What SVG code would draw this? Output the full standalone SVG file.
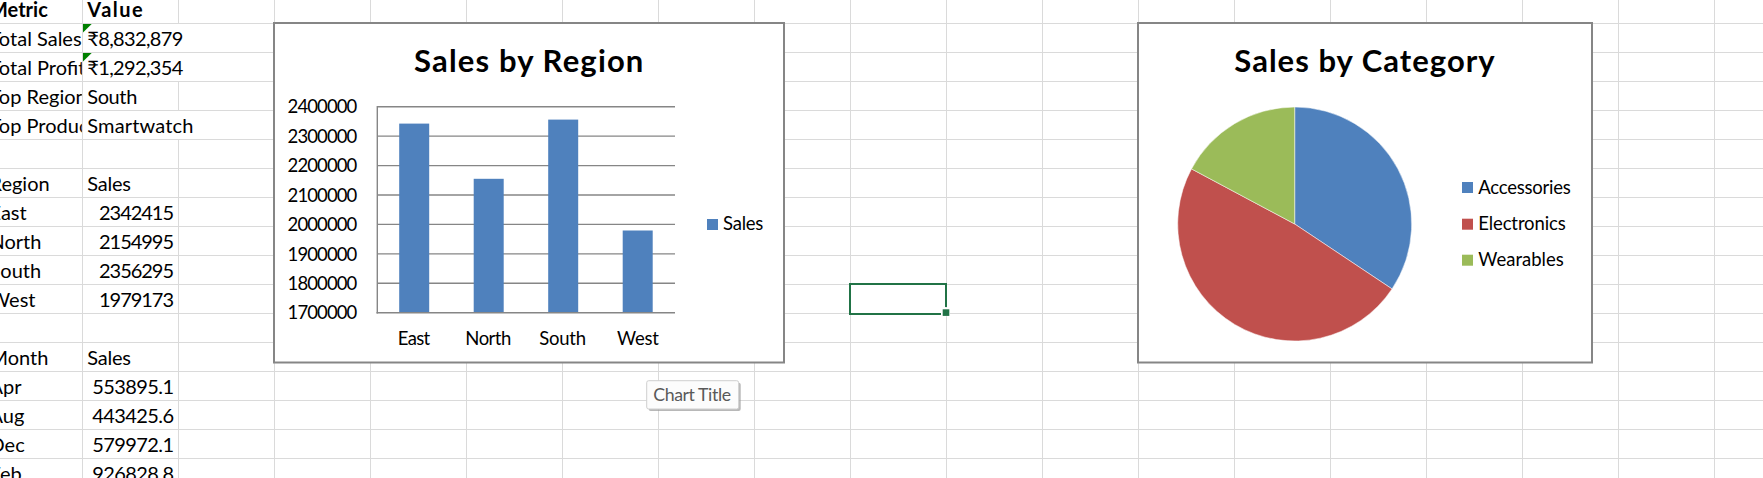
<svg xmlns="http://www.w3.org/2000/svg" width="1763" height="478" viewBox="0 0 1763 478">
<style>
.grid line{stroke:#dadada;stroke-width:1}
.t{font-family:Lato,"Noto Sans","DejaVu Sans",sans-serif;fill:#000}
.cell{font-size:20px}
.b{font-weight:bold}
.end{text-anchor:end}
.mid{text-anchor:middle}
.chartbox{fill:#fff;stroke:#868686;stroke-width:2}
.gl{stroke:#868686;stroke-width:1.4}
.ax{font-size:18.5px}
.ttl{font-size:31px;font-weight:bold;text-anchor:middle}
.bar{fill:#4f81bd}
.tri{fill:#008000}
</style>
<defs>
<clipPath id="colA"><rect x="-20" y="-20" width="101.8" height="520"/></clipPath>
</defs>
<rect x="0" y="0" width="1763" height="478" fill="#fff"/>
<g id="gridlines" class="grid">
<line x1="0" y1="23.5" x2="1763" y2="23.5"/>
<line x1="0" y1="52.5" x2="1763" y2="52.5"/>
<line x1="0" y1="81.5" x2="1763" y2="81.5"/>
<line x1="0" y1="110.5" x2="1763" y2="110.5"/>
<line x1="0" y1="139.5" x2="1763" y2="139.5"/>
<line x1="0" y1="168.5" x2="1763" y2="168.5"/>
<line x1="0" y1="197.5" x2="1763" y2="197.5"/>
<line x1="0" y1="226.5" x2="1763" y2="226.5"/>
<line x1="0" y1="255.5" x2="1763" y2="255.5"/>
<line x1="0" y1="284.5" x2="1763" y2="284.5"/>
<line x1="0" y1="313.5" x2="1763" y2="313.5"/>
<line x1="0" y1="342.5" x2="1763" y2="342.5"/>
<line x1="0" y1="371.5" x2="1763" y2="371.5"/>
<line x1="0" y1="400.5" x2="1763" y2="400.5"/>
<line x1="0" y1="429.5" x2="1763" y2="429.5"/>
<line x1="0" y1="458.5" x2="1763" y2="458.5"/>
<line x1="82.5" y1="0" x2="82.5" y2="478"/>
<line x1="178.5" y1="0" x2="178.5" y2="478"/>
<line x1="274.5" y1="0" x2="274.5" y2="478"/>
<line x1="370.5" y1="0" x2="370.5" y2="478"/>
<line x1="466.5" y1="0" x2="466.5" y2="478"/>
<line x1="562.5" y1="0" x2="562.5" y2="478"/>
<line x1="658.5" y1="0" x2="658.5" y2="478"/>
<line x1="754.5" y1="0" x2="754.5" y2="478"/>
<line x1="850.5" y1="0" x2="850.5" y2="478"/>
<line x1="946.5" y1="0" x2="946.5" y2="478"/>
<line x1="1042.5" y1="0" x2="1042.5" y2="478"/>
<line x1="1138.5" y1="0" x2="1138.5" y2="478"/>
<line x1="1234.5" y1="0" x2="1234.5" y2="478"/>
<line x1="1330.5" y1="0" x2="1330.5" y2="478"/>
<line x1="1426.5" y1="0" x2="1426.5" y2="478"/>
<line x1="1522.5" y1="0" x2="1522.5" y2="478"/>
<line x1="1618.5" y1="0" x2="1618.5" y2="478"/>
<line x1="1714.5" y1="0" x2="1714.5" y2="478"/>
</g>
<g id="overflow-covers" fill="#fff">
<rect x="177.5" y="24" width="2" height="28"/>
<rect x="177.5" y="53" width="2" height="28"/>
<rect x="177.5" y="111" width="2" height="28"/>
</g>
<g id="cells" class="t cell">
<g clip-path="url(#colA)">
<text x="-11" y="16.7" class="b">Metric</text>
<text x="-10.5" y="45.7">Total Sales</text>
<text x="-10.5" y="74.7">Total Profit</text>
<text x="-10.5" y="103.7">Top Region</text>
<text x="-10.5" y="132.7">Top Product</text>
<text x="-10.5" y="190.7">Region</text>
<text x="-10.5" y="219.7">East</text>
<text x="-10.5" y="248.7">North</text>
<text x="-10.5" y="277.7">South</text>
<text x="-10.5" y="306.7">West</text>
<text x="-10.5" y="364.7">Month</text>
<text x="-10.5" y="393.7">Apr</text>
<text x="-10.5" y="422.7">Aug</text>
<text x="-10.5" y="451.7">Dec</text>
<text x="-10.5" y="480.7">Feb</text>
</g>
<text x="87.3" y="16.7" class="b" textLength="55.3">Value</text>
<text x="87.3" y="45.7" textLength="96">₹8,832,879</text>
<text x="87.3" y="74.7" textLength="96">₹1,292,354</text>
<text x="87.3" y="103.7" textLength="50">South</text>
<text x="87.3" y="132.7" textLength="106">Smartwatch</text>
<text x="87.3" y="190.7" textLength="43.7">Sales</text>
<text x="174" y="219.7" class="end" textLength="75">2342415</text>
<text x="174" y="248.7" class="end" textLength="75">2154995</text>
<text x="174" y="277.7" class="end" textLength="75">2356295</text>
<text x="174" y="306.7" class="end" textLength="75">1979173</text>
<text x="87.3" y="364.7" textLength="43.7">Sales</text>
<text x="174" y="393.7" class="end" textLength="81.7">553895.1</text>
<text x="174" y="422.7" class="end" textLength="81.7">443425.6</text>
<text x="174" y="451.7" class="end" textLength="81.7">579972.1</text>
<text x="174" y="480.7" class="end" textLength="81.7">926828.8</text>
<polygon class="tri" points="83,24 91.7,24 83,32.4"/>
<polygon class="tri" points="83,53 91.7,53 83,61.4"/>
</g>
<g id="chart-sales-by-region">
<rect class="chartbox" x="274" y="23" width="510" height="339.5"/>
<text class="t ttl" x="528.7" y="71.5" textLength="229.3">Sales by Region</text>
<g>
<line class="gl" x1="377" y1="106.7" x2="675" y2="106.7"/>
<line class="gl" x1="377" y1="136.1" x2="675" y2="136.1"/>
<line class="gl" x1="377" y1="165.6" x2="675" y2="165.6"/>
<line class="gl" x1="377" y1="195" x2="675" y2="195"/>
<line class="gl" x1="377" y1="224.4" x2="675" y2="224.4"/>
<line class="gl" x1="377" y1="253.9" x2="675" y2="253.9"/>
<line class="gl" x1="377" y1="283.3" x2="675" y2="283.3"/>
</g>
<rect class="bar" x="399.2" y="123.6" width="30" height="189.1"/>
<rect class="bar" x="473.7" y="178.8" width="30" height="133.9"/>
<rect class="bar" x="548.2" y="119.6" width="30" height="193.1"/>
<rect class="bar" x="622.7" y="230.5" width="30" height="82.2"/>
<line class="gl" x1="376.5" y1="312.7" x2="675" y2="312.7"/>
<line class="gl" x1="377.3" y1="106" x2="377.3" y2="313.4"/>
<g class="t ax end">
<text x="357.3" y="113.3" textLength="69.7">2400000</text>
<text x="357.3" y="142.7" textLength="69.7">2300000</text>
<text x="357.3" y="172.2" textLength="69.7">2200000</text>
<text x="357.3" y="201.6" textLength="69.7">2100000</text>
<text x="357.3" y="231" textLength="69.7">2000000</text>
<text x="357.3" y="260.5" textLength="69.7">1900000</text>
<text x="357.3" y="289.9" textLength="69.7">1800000</text>
<text x="357.3" y="319.3" textLength="69.7">1700000</text>
</g>
<g class="t ax mid">
<text x="414" y="345" textLength="32.3">East</text>
<text x="488.3" y="345" textLength="46">North</text>
<text x="562.7" y="345" textLength="46.7">South</text>
<text x="638" y="345" textLength="42">West</text>
</g>
<rect class="bar" x="707" y="219" width="11" height="11"/>
<text class="t ax" x="723" y="230" textLength="40.3">Sales</text>
</g>
<g id="chart-sales-by-category">
<rect class="chartbox" x="1138" y="23" width="454" height="339.5"/>
<text class="t ttl" x="1364.5" y="71.5" textLength="260.4">Sales by Category</text>
<g stroke="#fff" stroke-width="0.5" stroke-linejoin="round">
<path fill="#4f81bd" d="M1294.7,224 L1294.7,107 A117,117 0 0 1 1392.04,288.91 Z"/>
<path fill="#c0504d" d="M1294.7,224 L1392.04,288.91 A117,117 0 0 1 1191.49,168.89 Z"/>
<path fill="#9bbb59" d="M1294.7,224 L1191.49,168.89 A117,117 0 0 1 1294.7,107 Z"/>
</g>
<rect fill="#4f81bd" x="1462" y="182" width="11" height="11"/>
<rect fill="#c0504d" x="1462" y="218.7" width="11" height="11"/>
<rect fill="#9bbb59" x="1462" y="254.7" width="11" height="11"/>
<g class="t ax">
<text x="1478.3" y="194" textLength="92.4">Accessories</text>
<text x="1478.3" y="230" textLength="87.4">Electronics</text>
<text x="1478.3" y="266" textLength="85.4">Wearables</text>
</g>
</g>
<g id="selected-cell">
<path d="M941,314 H850 V284 H946 V307.3" fill="none" stroke="#217346" stroke-width="2"/>
<rect x="941" y="307.3" width="9" height="9" fill="#fff"/>
<rect x="942.7" y="309.3" width="6.6" height="6.6" fill="#217346"/>
</g>
<g id="tooltip">
<rect x="648.7" y="382.7" width="92" height="28.3" rx="2" fill="#9a9a9a" opacity="0.7"/>
<rect x="646.7" y="380.7" width="92" height="28.3" rx="2" fill="#fcfcfc" stroke="#cfcfcf" stroke-width="1"/>
<text class="t" x="653.3" y="400.7" font-size="17.7" style="fill:#595959" textLength="77.7">Chart Title</text>
</g>
</svg>
